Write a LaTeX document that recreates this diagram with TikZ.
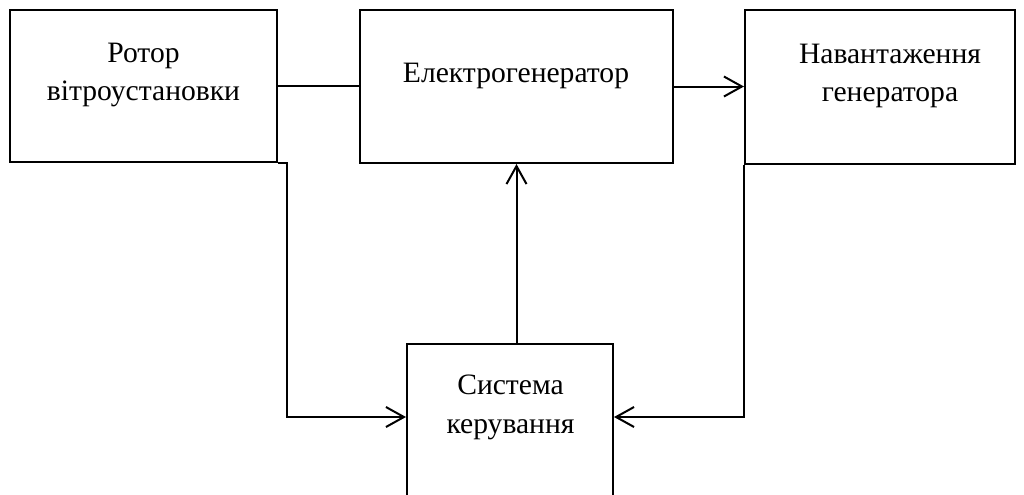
\documentclass[tikz,border=0pt]{standalone}
\usepackage{fontspec}
\setmainfont{Liberation Serif}
\usetikzlibrary{arrows.meta,calc}
\begin{document}
\begin{tikzpicture}[x=0.75pt,y=-0.75pt,
  blk/.style={draw,line width=1.5pt,rectangle,inner sep=0pt},
  lbl/.style={anchor=base,inner sep=0pt,font=\fontsize{22.2pt}{28pt}\selectfont},
  conn/.style={line width=1.5pt},
  arr/.style={line width=1.5pt,-{Straight Barb[length=13.5pt,width=15pt]}}]
\useasboundingbox (0,0) rectangle (1024,494);
% boxes
\node[blk,minimum width=200.25pt,minimum height=114pt] (rotor) at (143.5,86) {};
\node[blk,minimum width=234.75pt,minimum height=114.75pt] (gen) at (516.5,86.5) {};
\node[blk,minimum width=202.5pt,minimum height=115.5pt] (nav) at (880,87) {};
\node[blk,minimum width=154.5pt,minimum height=124.5pt] (sys) at (510,427) {};
% texts
\node[lbl] (rotorA) at (143.5,62) {Ротор};
\node[lbl] (rotorB) at (143.5,100) {вітроустановки};
\node[lbl] (genA) at (516,82) {Електрогенератор};
\node[lbl] (navA) at (890,63) {Навантаження};
\node[lbl] (navB) at (890,101) {генератора};
\node[lbl] (sysA) at (510.5,394) {Система};
\node[lbl] (sysB) at (510.5,433) {керування};
% connectors
\draw[conn] (rotor.east) -- (rotor.east -| gen.west);
\draw[arr] (gen.east) -- (gen.east -| nav.west);
\draw[arr] (gen.south |- sys.north) -- (gen.south);
\coordinate (rk) at ($(rotor.south east)+(9,0)$);
\draw[arr] (rotor.south east) -- (rk) |- ($(sys.north west)+(0,74)$);
\draw[arr] (nav.south west) |- ($(sys.north east)+(0,74)$);
\end{tikzpicture}
\end{document}
